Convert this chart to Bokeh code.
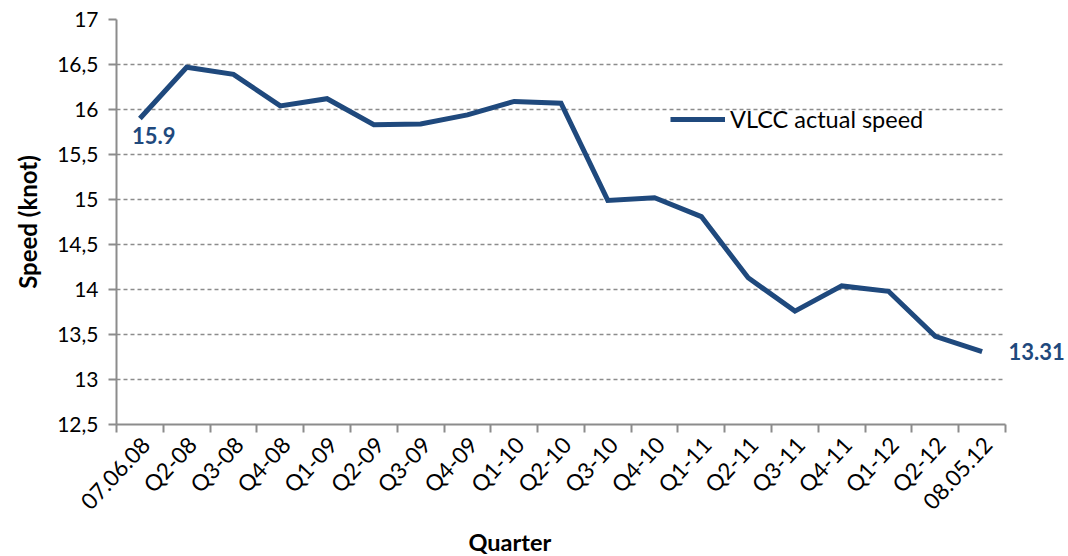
import math
from bokeh.plotting import figure
from bokeh.models import FixedTicker, Label, Legend, LegendItem, Range1d, LinearAxis, Title
from bokeh.embed import file_html
from bokeh.resources import INLINE

quarters = ["07.06.08", "Q2-08", "Q3-08", "Q4-08", "Q1-09", "Q2-09", "Q3-09", "Q4-09",
            "Q1-10", "Q2-10", "Q3-10", "Q4-10", "Q1-11", "Q2-11", "Q3-11", "Q4-11",
            "Q1-12", "Q2-12", "08.05.12"]
speed = [15.90, 16.47, 16.39, 16.04, 16.12, 15.83, 15.84, 15.94, 16.09, 16.07,
         14.99, 15.02, 14.81, 14.13, 13.76, 14.04, 13.98, 13.48, 13.31]
y_ticks = [12.5, 13, 13.5, 14, 14.5, 15, 15.5, 16, 16.5, 17]
y_tick_labels = ["12,5", "13", "13,5", "14", "14,5", "15", "15,5", "16", "16,5", "17"]

BLUE = "#1F497D"
GRAY = "#8c8c8c"
FONT = "Lato"

n = len(quarters)
xs = [i + 0.5 for i in range(n)]
label_shift = 0.12  # label anchor shift (category units) so the rotated text ends right of the centre

p = figure(width=1068, height=555, output_backend="svg", toolbar_location=None,
           x_range=Range1d(0, n), y_range=Range1d(12.5, 17),
           min_border_left=116, min_border_right=63, min_border_top=19, min_border_bottom=131)
p.outline_line_color = None
p.background_fill_color = "white"

line = p.line(xs, speed, line_color=BLUE, line_width=5, line_join="miter")

# x axis
label_pos = [x + label_shift for x in xs]
p.xaxis.ticker = FixedTicker(ticks=label_pos, minor_ticks=list(range(n + 1)))
p.xaxis.major_label_overrides = {x: q for x, q in zip(label_pos, quarters)}
p.xaxis.major_tick_out = 0
p.xaxis.major_tick_in = 0
p.xaxis.minor_tick_out = 8
p.xaxis.minor_tick_in = 0
p.xaxis.minor_tick_line_color = GRAY
p.xaxis.minor_tick_line_width = 2
p.xaxis.axis_line_color = GRAY
p.xaxis.axis_line_width = 2
p.xaxis.major_label_orientation = math.radians(47)
p.xaxis.major_label_text_font = FONT
p.xaxis.major_label_text_font_size = "22.5px"
p.xaxis.major_label_text_color = "black"
p.xaxis.major_label_standoff = 8

# y axis
p.yaxis.ticker = FixedTicker(ticks=y_ticks)
p.yaxis.major_label_overrides = {t: l for t, l in zip(y_ticks, y_tick_labels)}
p.yaxis.major_tick_out = 8
p.yaxis.major_tick_in = 0
p.yaxis.minor_tick_out = 0
p.yaxis.minor_tick_in = 0
p.yaxis.major_tick_line_color = GRAY
p.yaxis.major_tick_line_width = 2
p.yaxis.axis_line_color = GRAY
p.yaxis.axis_line_width = 2
p.yaxis.major_label_text_font = FONT
p.yaxis.major_label_text_font_size = "21px"
p.yaxis.major_label_text_color = "black"
p.yaxis.major_label_standoff = 10
p.yaxis.axis_label = "Speed (knot)"
p.yaxis.axis_label_text_font = FONT
p.yaxis.axis_label_text_font_size = "24px"
p.yaxis.axis_label_text_font_style = "bold"
p.yaxis.axis_label_text_color = "black"
p.yaxis.axis_label_standoff = 12

p.xgrid.grid_line_color = None
p.ygrid.grid_line_color = GRAY
p.ygrid.grid_line_dash = "4 3"
p.ygrid.grid_line_width = 1.5

# right-hand value label of the last point, drawn as a one-tick axis so it is not clipped
end_axis = LinearAxis(ticker=FixedTicker(ticks=[speed[-1]]),
                      major_label_overrides={speed[-1]: f"{speed[-1]:.2f}"})
end_axis.axis_line_color = None
end_axis.major_tick_line_color = None
end_axis.minor_tick_line_color = None
end_axis.major_tick_out = 0
end_axis.major_tick_in = 0
end_axis.minor_tick_out = 0
end_axis.minor_tick_in = 0
end_axis.major_label_standoff = 3
end_axis.major_label_text_font = FONT
end_axis.major_label_text_font_size = "22px"
end_axis.major_label_text_font_style = "bold"
end_axis.major_label_text_color = BLUE
p.add_layout(end_axis, "right")

# x axis title
p.add_layout(Title(text="Quarter", align="left", offset=352, standoff=-2,
                   text_font=FONT, text_font_size="23.5px", text_font_style="bold",
                   text_color="black"), "below")

# first value label
p.add_layout(Label(x=xs[0], y=speed[0], text=f"{speed[0]}", x_offset=-8, y_offset=-8,
                   text_font=FONT, text_font_size="22px", text_font_style="bold",
                   text_color=BLUE, text_align="left", text_baseline="top"))

legend = Legend(items=[LegendItem(label="VLCC actual speed", renderers=[line])],
                location=(554, 291), glyph_width=55, glyph_height=20, label_height=20,
                label_standoff=5, padding=0, margin=0, border_line_color=None,
                background_fill_alpha=0, label_text_font=FONT, label_text_font_size="23.5px",
                label_text_color="black")
p.add_layout(legend)

open("out.html", "w").write(file_html(p, INLINE))
